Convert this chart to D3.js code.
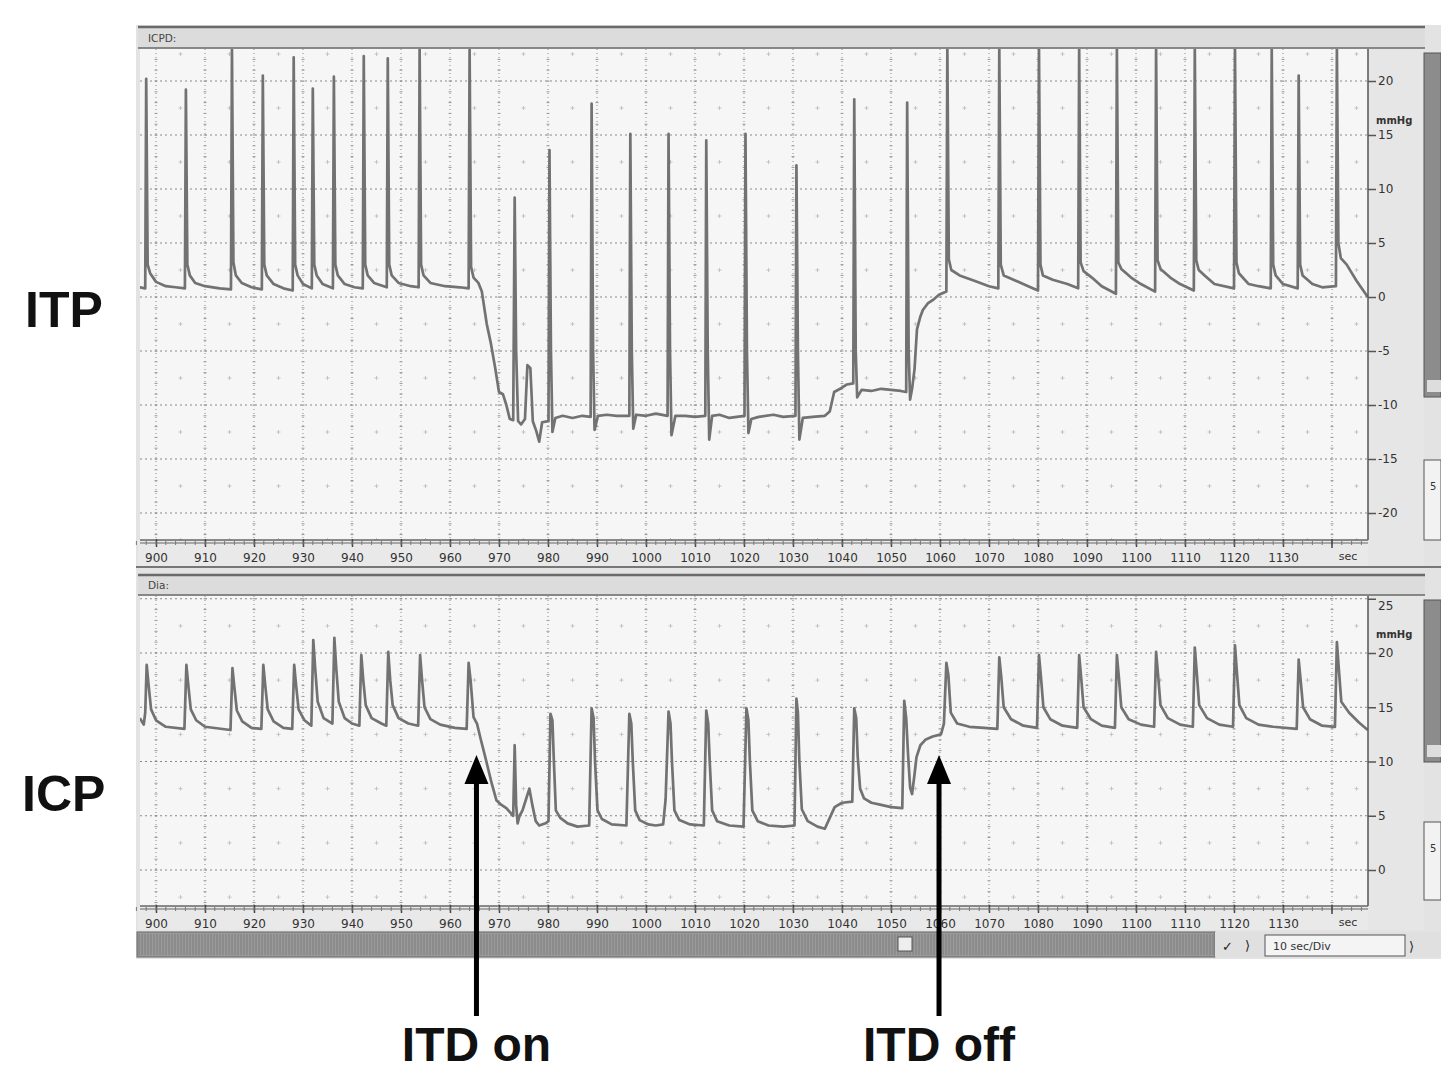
<!DOCTYPE html>
<html><head><meta charset="utf-8">
<script src="https://cdn.jsdelivr.net/npm/d3@7"></script>
<style>body{margin:0;background:#fff}svg{display:block}</style>
</head><body><svg id="c" width="1441" height="1072"></svg>
<script>
// ---------- DATA ----------
const xTicks = [900,910,920,930,940,950,960,970,980,990,1000,1010,1020,1030,1040,1050,1060,1070,1080,1090,1100,1110,1120,1130];
const itpTicks = [20,15,10,5,0,-5,-10,-15,-20];
const icpTicks = [25,20,15,10,5,0];
const panelNames = ["ICPD:", "Dia:"];
const sideLabels = ["ITP", "ICP"];
const unitLabel = "mmHg";
const events = [{t:965.4, label:"ITD on"}, {t:1059.8, label:"ITD off"}];
// ITP trace [sec, mmHg]
const itp = [
[896.7,0.9],[897.8,0.8],[898.0,20.2],[898.3,3.0],[898.8,2.2],[900,1.4],[902,1.0],[904,0.9],[905.9,0.8],
[906.1,19.2],[906.4,3.0],[906.9,2.0],[908,1.3],[910,1.0],[913,0.8],[915.3,0.7],
[915.5,23],[915.8,3.2],[916.3,2.0],[917.5,1.3],[919.5,0.9],[921.6,0.7],
[921.8,20.5],[922.1,3.0],[922.6,2.0],[924,1.2],[926,0.8],[927.9,0.6],
[928.1,22.2],[928.4,3.0],[928.9,2.0],[930,1.2],[931.8,0.8],
[932.0,19.3],[932.3,3.0],[932.8,2.0],[934,1.2],[936.1,0.8],
[936.3,20.4],[936.6,3.0],[937.1,2.0],[938.5,1.2],[940.5,0.9],[942.2,0.8],
[942.4,22.3],[942.7,3.0],[943.2,2.0],[944.5,1.3],[947.1,0.9],
[947.3,22.1],[947.6,3.0],[948.1,2.0],[949.5,1.3],[952,1.0],[953.6,0.9],
[953.8,23],[954.1,3.0],[954.6,2.0],[956,1.3],[959,1.0],[962,0.9],[963.8,0.8],
[964.0,23],[964.3,2.8],[964.8,1.8],[965.8,1.3],[966.5,0.5],[967.5,-2.5],[968.3,-4.2],[969.2,-6.5],[970.0,-8.8],[970.8,-9.0],[971.5,-10.0],[972.2,-11.3],[972.9,-11.4],
[973.2,9.2],[973.5,-5],[973.9,-11.5],[974.5,-11.8],[975.3,-11.3],
[975.8,-6.3],[976.4,-6.6],[976.9,-11.5],[977.6,-12.4],[978.2,-13.4],[978.8,-11.6],[980.1,-11.5],
[980.3,13.6],[980.6,-5],[980.9,-12.5],[981.5,-11.2],[983,-11.0],[985,-11.2],[987,-11.0],[988.7,-11.1],
[988.9,17.9],[989.2,-5],[989.5,-12.3],[990.2,-11.0],[992,-10.9],[994,-11.0],[996.6,-11.0],
[996.8,15.1],[997.1,-5],[997.4,-12.2],[998,-10.9],[1000,-11.0],[1002,-10.8],[1004.4,-11.0],
[1004.6,15.1],[1004.9,-5],[1005.2,-12.8],[1006,-11.0],[1008,-11.0],[1010,-11.1],[1012.1,-11.0],
[1012.3,14.5],[1012.6,-5],[1012.9,-13.2],[1013.5,-11.0],[1015,-10.9],[1017,-11.2],[1020.1,-11.0],
[1020.3,15.1],[1020.6,-5],[1020.9,-12.6],[1021.5,-11.3],[1023,-11.1],[1026,-10.9],[1028,-11.1],[1030.5,-11.0],
[1030.7,12.2],[1031,-5],[1031.3,-13.2],[1032,-11.2],[1034,-11.1],[1036.5,-11.0],[1037.5,-10.6],[1038.4,-8.8],[1040,-8.4],[1041,-8.1],[1042.3,-8.0],
[1042.5,18.3],[1042.8,-5],[1043.1,-9.3],[1044,-8.6],[1046,-8.7],[1048,-8.5],[1050,-8.6],[1052,-8.7],[1053.1,-8.8],
[1053.3,18.0],[1053.6,-5],[1053.9,-9.5],[1054.3,-8.5],[1054.8,-6.7],[1055.3,-3.0],[1056,-1.8],[1056.5,-1.2],[1057.5,-0.6],[1058.5,-0.3],[1059.8,0.2],[1061.3,0.5],
[1061.5,23],[1061.8,3.5],[1062.3,2.5],[1064,2.0],[1067,1.5],[1070,1.0],[1071.9,0.8],
[1072.1,23],[1072.4,3.0],[1073,2.0],[1075,1.6],[1078,1.0],[1080,0.6],
[1080.2,23],[1080.5,3.0],[1081,2.0],[1083,1.6],[1086,1.2],[1088.2,0.8],
[1088.4,23],[1088.7,3.2],[1089.3,2.4],[1091,1.8],[1093,1.0],[1095.9,0.3],
[1096.1,23],[1096.4,3.2],[1097,2.6],[1099,1.8],[1101,1.2],[1103.9,0.5],
[1104.1,23],[1104.4,3.4],[1105,2.6],[1107,1.8],[1109,1.2],[1111.8,0.6],
[1112.0,23],[1112.3,3.4],[1112.8,2.5],[1114,2.0],[1116,1.2],[1120,0.8],
[1120.2,23],[1120.5,3.2],[1121,2.2],[1123,1.2],[1125,1.0],[1127.5,0.8],
[1127.7,23],[1128,3.0],[1128.5,2.0],[1130,1.2],[1133,0.8],
[1133.2,20.5],[1133.5,3.0],[1134,2.0],[1136,1.2],[1138,0.9],[1140.8,1.0],
[1141.0,23],[1141.3,5],[1141.8,3.6],[1143,3.0],[1145,1.5],[1147.3,0]
];
// ICP trace [sec, mmHg]
const icp = [
[896.7,14.0],[897.5,13.4],[897.8,14.5],[898.1,18.9],[898.5,17.0],[899.0,14.8],[900,13.8],[902,13.2],[905.8,13.0],
[906.2,18.9],[906.6,17.0],[907.1,14.8],[908.2,13.8],[910,13.2],[915.2,12.9],
[915.6,18.6],[916,16.8],[916.5,14.7],[917.6,13.7],[919.5,13.1],[921.5,13.0],
[921.9,18.9],[922.3,17],[922.8,14.8],[924,13.7],[926,13.1],[927.8,13.0],
[928.2,18.9],[928.6,17],[929.1,14.8],[930.3,13.8],[931.7,13.3],
[932.1,21.2],[932.5,18.5],[933,15.5],[934.2,14],[936,13.5],
[936.4,21.4],[936.8,18.5],[937.3,15.5],[938.5,14.0],[940,13.5],[941.5,13.3],
[941.9,19.8],[942.3,17.5],[942.8,15.2],[944,14],[946,13.5],[947,13.3],
[947.4,20.1],[947.8,17.5],[948.3,15.2],[949.5,14],[951.5,13.5],[953.5,13.3],
[953.9,19.8],[954.3,17.5],[954.8,15],[956,13.9],[958,13.4],[961,13.1],[963.4,13.0],
[963.8,19.1],[964.2,17.5],[964.8,14.1],[965.5,13.5],[966.3,12.0],[967.2,10.4],[968.5,8.0],[969.5,6.4],[970.5,6.0],[971.5,5.7],[972.5,5.2],[972.9,5.0],
[973.2,11.5],[973.5,6],[973.8,4.3],[974.2,5.0],[974.8,5.5],[975.5,6.5],[976.2,7.5],[976.8,6],[977.5,4.5],[978.2,4.1],[979.5,4.3],[980.1,4.5],
[980.5,14.4],[980.9,13.8],[981.2,10],[981.6,5.5],[982.5,4.8],[984,4.3],[986,4.0],[988.4,4.1],
[988.9,14.9],[989.3,14.0],[989.6,10],[990.1,5.5],[991,4.7],[993,4.2],[996,4.1],
[996.6,14.4],[997,13.5],[997.3,10],[997.8,5.5],[998.7,4.6],[1000.5,4.2],[1002,4.1],[1003.5,4.2],[1004.0,6.5],
[1004.6,14.6],[1005,13.5],[1005.3,10],[1005.8,5.5],[1006.8,4.6],[1009,4.2],[1011.8,4.1],
[1012.3,14.7],[1012.7,13.5],[1013,10],[1013.5,5.5],[1014.5,4.5],[1017,4.1],[1019.9,4.0],
[1020.5,14.9],[1020.9,13.8],[1021.2,10],[1021.7,5.5],[1022.8,4.5],[1025,4.1],[1028,4.0],[1030.3,4.1],
[1030.7,15.8],[1031,14.5],[1031.3,10],[1031.8,5.6],[1033,4.5],[1035,4.0],[1036.5,3.8],[1037.5,4.8],[1038.5,5.8],[1040,6.2],[1042.1,6.3],
[1042.5,14.9],[1042.9,14],[1043.2,10.5],[1043.7,7.5],[1044.5,6.6],[1046,6.2],[1048,6.0],[1050,5.8],[1052.3,5.7],
[1052.7,15.6],[1053.1,14.0],[1053.5,10.5],[1053.9,7.6],[1054.3,7.0],[1054.8,8.8],[1055.2,10.4],[1056,11.5],[1057,12.0],[1058.5,12.3],[1060.2,12.5],[1060.8,13.5],
[1061.3,19.1],[1061.7,18],[1062.2,14.5],[1063.5,13.5],[1066,13.2],[1069,13.1],[1071.7,13.0],
[1072.1,19.6],[1072.5,17.8],[1073,15],[1074.5,13.9],[1077,13.3],[1079.8,13.1],
[1080.2,19.8],[1080.6,17.8],[1081.1,15],[1082.5,13.9],[1085,13.3],[1088,13.1],
[1088.4,19.8],[1088.8,17.8],[1089.3,15],[1090.8,13.9],[1093,13.3],[1095.7,13.1],
[1096.1,19.8],[1096.5,17.8],[1097,15],[1098.5,13.9],[1101,13.4],[1103.7,13.2],
[1104.1,20.1],[1104.5,18],[1105,15.2],[1106.5,14],[1109,13.4],[1111.6,13.2],
[1112.0,20.5],[1112.4,18.2],[1112.9,15.2],[1114.5,14],[1117,13.4],[1119.8,13.2],
[1120.2,20.7],[1120.6,18.2],[1121.1,15.2],[1122.5,14],[1125,13.4],[1128,13.2],[1132.8,13.0],
[1133.2,19.4],[1133.6,17.5],[1134.1,15],[1135.5,13.9],[1138,13.3],[1140.6,13.2],
[1141.0,21.0],[1141.4,18.5],[1141.9,15.5],[1143.5,14.5],[1145.5,13.6],[1147.3,12.9]
];

// ---------- LAYOUT ----------
const svg = d3.select("#c");
const X0 = 140, X1 = 1368;
const x = d3.scaleLinear().domain([900,1130]).range([156,1283]);
const pTop = {y0:49, y1:540, scale: d3.scaleLinear().domain([-20,20]).range([513,81]), ticks: itpTicks, data: itp, name: panelNames[0], head:[27,48], band:[540,566], unitAt:16.0};
const pBot = {y0:596, y1:906, scale: d3.scaleLinear().domain([0,20]).range([870,653]), ticks: icpTicks, data: icp, name: panelNames[1], head:[575,595], band:[906,930], unitAt:21.4};

svg.append("rect").attr("x",136).attr("y",25).attr("width",1305).attr("height",934).attr("fill","#e3e3e3");

const defs = svg.append("defs");
[pTop,pBot].forEach((p,i)=>{
  defs.append("clipPath").attr("id","clip"+i).append("rect")
    .attr("x",X0).attr("y",p.y0).attr("width",X1-X0).attr("height",p.y1-p.y0);
});

function panel(p, i){
  const g = svg.append("g");
  g.append("rect").attr("x",138).attr("y",p.head[0]).attr("width",1287).attr("height",p.head[1]-p.head[0]).attr("fill","#dcdcdc");
  g.append("line").attr("x1",138).attr("x2",1425).attr("y1",p.head[0]).attr("y2",p.head[0]).attr("stroke","#6a6a6a").attr("stroke-width",2.5);
  g.append("line").attr("x1",138).attr("x2",1425).attr("y1",p.head[1]).attr("y2",p.head[1]).attr("stroke","#6a6a6a").attr("stroke-width",1.5);
  g.append("text").attr("x",148).attr("y",(p.head[0]+p.head[1])/2+4).text(p.name)
    .attr("font-family","DejaVu Sans").attr("font-size",10.5).attr("fill","#444");
  g.append("rect").attr("x",X0).attr("y",p.y0).attr("width",X1-X0).attr("height",p.y1-p.y0).attr("fill","#f6f6f6");
  g.append("rect").attr("x",X1).attr("y",p.y0).attr("width",56).attr("height",p.band[1]-p.y0).attr("fill","#e6e6e6");
  g.append("rect").attr("x",X0-2).attr("y",p.band[0]).attr("width",X1-X0+2).attr("height",p.band[1]-p.band[0]).attr("fill","#e9e9e9");

  const gc = g.append("g").attr("clip-path","url(#clip"+i+")");
  const dmin = p.scale.invert(p.y1), dmax = p.scale.invert(p.y0);
  const centres = [];
  for (let t=895; t<=1150; t+=10) for (let v=Math.floor(dmin/5)*5+2.5; v<=dmax; v+=5) centres.push([t,v]);
  gc.selectAll(".cm").data(centres).enter().append("path")
    .attr("d",d=>`M${x(d[0])-2},${p.scale(d[1])}h4M${x(d[0])},${p.scale(d[1])-2}v4`)
    .attr("stroke","#c4c4c4").attr("stroke-width",1);
  const vg = d3.range(890,1150,10);
  gc.selectAll(".vg").data(vg).enter().append("line")
    .attr("x1",d=>x(d)).attr("x2",d=>x(d)).attr("y1",p.y0).attr("y2",p.y1)
    .attr("stroke","#8a8a8a").attr("stroke-width",1).attr("stroke-dasharray","1,3");
  const vt = [];
  vg.forEach(t=>{ for (let v=Math.ceil(dmin); v<=dmax; v++) vt.push([t,v]); });
  gc.selectAll(".vt").data(vt).enter().append("line")
    .attr("x1",d=>x(d[0])-1.5).attr("x2",d=>x(d[0])+1.5).attr("y1",d=>p.scale(d[1])).attr("y2",d=>p.scale(d[1]))
    .attr("stroke","#999").attr("stroke-width",1);
  const hg = d3.range(Math.ceil(dmin/5)*5, dmax+0.01, 5);
  gc.selectAll(".hg").data(hg).enter().append("line")
    .attr("x1",X0).attr("x2",X1).attr("y1",d=>p.scale(d)).attr("y2",d=>p.scale(d))
    .attr("stroke","#8a8a8a").attr("stroke-width",1).attr("stroke-dasharray","2,3");
  const line = d3.line().x(d=>x(d[0])).y(d=>p.scale(d[1]));
  gc.append("path").datum(p.data).attr("d",line).attr("fill","none")
    .attr("stroke","#727272").attr("stroke-width",2.7).attr("stroke-linejoin","round");
  g.append("line").attr("x1",X1).attr("x2",X1).attr("y1",p.y0).attr("y2",p.y1).attr("stroke","#555").attr("stroke-width",1.5);
  g.append("line").attr("x1",X0).attr("x2",X1).attr("y1",p.y1).attr("y2",p.y1).attr("stroke","#666").attr("stroke-width",1.5);
  const ra = d3.axisRight(p.scale).tickValues(p.ticks).tickSize(8).tickPadding(2).tickFormat(d=>d<0?"-"+Math.abs(d):d);
  const rg = g.append("g").attr("transform",`translate(${X1},0)`).call(ra);
  rg.select(".domain").remove();
  rg.selectAll(".tick line").attr("stroke","#555").attr("stroke-width",1.5);
  rg.selectAll(".tick text").attr("font-family","DejaVu Sans").attr("font-size",12).attr("fill","#333")
    .attr("dy", d=> d===25 ? "0.9em" : "0.32em");
  g.append("text").attr("x",X1+8).attr("y",p.scale(p.unitAt)).text(unitLabel)
    .attr("font-family","DejaVu Sans").attr("font-weight","bold").attr("font-size",10).attr("fill","#333");
  const ty = p.band[0]+3;
  const ba = d3.axisBottom(x).tickValues(xTicks).tickSize(4).tickPadding(6).tickFormat(d3.format("d"));
  const bg = g.append("g").attr("transform",`translate(0,${ty})`).call(ba);
  bg.select(".domain").remove();
  bg.selectAll(".tick line").attr("stroke","#444").attr("stroke-width",1.5).attr("y1",-4);
  bg.selectAll(".tick text").attr("font-family","DejaVu Sans").attr("font-size",12).attr("fill","#333");
  g.append("line").attr("x1",X0).attr("x2",X1).attr("y1",ty).attr("y2",ty).attr("stroke","#666").attr("stroke-width",1.2);
  const minor = d3.range(896,1148,2);
  g.selectAll(".mt"+i).data(minor).enter().append("line")
    .attr("x1",d=>x(d)).attr("x2",d=>x(d)).attr("y1",ty-2).attr("y2",ty+2).attr("stroke","#777").attr("stroke-width",1);
  g.append("line").attr("x1",x(1140)).attr("x2",x(1140)).attr("y1",ty-4).attr("y2",ty+5).attr("stroke","#444").attr("stroke-width",1.5);
  g.append("text").attr("x",1348).attr("y",ty+17).text("sec").attr("text-anchor","middle")
    .attr("font-family","DejaVu Sans").attr("font-size",11).attr("fill","#333");
  g.append("rect").attr("x",1424).attr("y",p.y0+4).attr("width",17).attr("height",(i===0?397:762)-(p.y0+4)).attr("fill","#8c8c8c").attr("stroke","#555");
  g.append("rect").attr("x",1427).attr("y",(i===0?380:745)).attr("width",14).attr("height",12).attr("fill","#ddd");
  g.append("rect").attr("x",1424).attr("y",(i===0?460:822)).attr("width",17).attr("height",(i===0?80:78)).attr("fill","#f2f2f2").attr("stroke","#555");
  g.append("text").attr("x",1430).attr("y",(i===0?490:852)).text("5").attr("font-family","DejaVu Sans").attr("font-size",10).attr("fill","#333");
}
panel(pTop,0);
panel(pBot,1);

svg.append("line").attr("x1",136).attr("x2",1441).attr("y1",567).attr("y2",567).attr("stroke","#777").attr("stroke-width",2);

const sb = svg.append("g");
sb.append("rect").attr("x",137).attr("y",932).attr("width",1078).attr("height",25).attr("fill","#9a9a9a").attr("stroke","#666");
sb.selectAll(".sl").data(d3.range(0,1078,3)).enter().append("line")
  .attr("x1",d=>139+d).attr("x2",d=>139+d).attr("y1",934).attr("y2",955).attr("stroke","#777").attr("stroke-width",0.8);
sb.append("rect").attr("x",898).attr("y",937).attr("width",14).attr("height",14).attr("fill","#eee").attr("stroke","#555");
sb.append("rect").attr("x",1215).attr("y",932).attr("width",226).attr("height",25).attr("fill","#e0e0e0");
sb.append("text").attr("x",1222).attr("y",951).text("✓").attr("font-family","DejaVu Sans").attr("font-size",13).attr("fill","#222");
sb.append("text").attr("x",1245).attr("y",950).text("⟩").attr("font-family","DejaVu Sans").attr("font-size",13).attr("fill","#222");
sb.append("rect").attr("x",1265).attr("y",935).attr("width",140).attr("height",21).attr("fill","#f4f4f4").attr("stroke","#555");
sb.append("text").attr("x",1273).attr("y",950).text("10 sec/Div").attr("font-family","DejaVu Sans").attr("font-size",11).attr("fill","#333");
sb.append("text").attr("x",1409).attr("y",951).text("⟩").attr("font-family","DejaVu Sans").attr("font-size",13).attr("fill","#222");

svg.append("text").attr("x",25).attr("y",327).text(sideLabels[0]).attr("font-family","Liberation Sans, Arial").attr("font-weight","bold").attr("font-size",50).attr("fill","#111");
svg.append("text").attr("x",22).attr("y",811).text(sideLabels[1]).attr("font-family","Liberation Sans, Arial").attr("font-weight","bold").attr("font-size",50).attr("fill","#111");

const ev = svg.append("g");
events.forEach(e=>{
  const cx = x(e.t);
  ev.append("rect").attr("x",cx-2.5).attr("y",780).attr("width",5).attr("height",236).attr("fill","#000");
  ev.append("path").attr("d",`M${cx},755L${cx+12},784L${cx-12},784Z`).attr("fill","#000");
  ev.append("text").attr("x",cx).attr("y",1061).attr("text-anchor","middle").text(e.label)
    .attr("font-family","Liberation Sans, Arial").attr("font-weight","bold").attr("font-size",48).attr("fill","#111");
});
</script></body></html>
